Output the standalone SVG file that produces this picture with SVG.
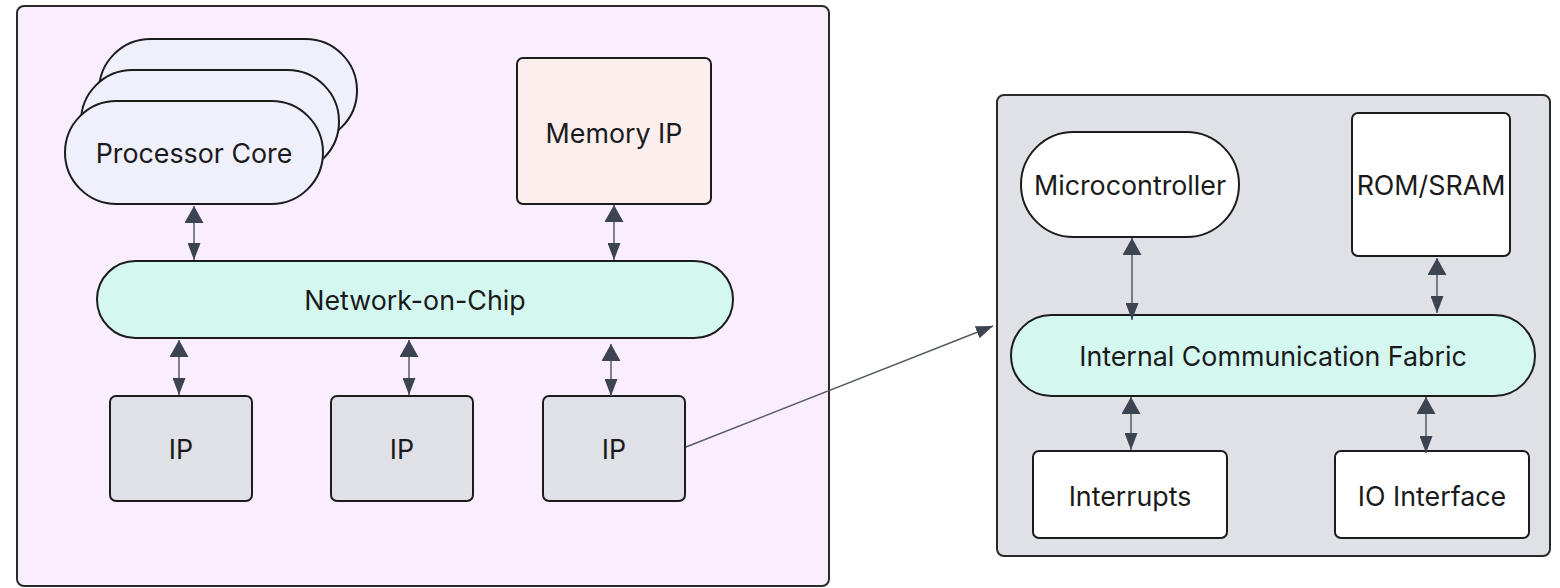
<svg xmlns="http://www.w3.org/2000/svg" width="1560" height="588" viewBox="0 0 1560 588">
  <style>
    .node { stroke: #1c1c1c; stroke-width: 2; }
    .lbl { font-family: Inter, "Liberation Sans", sans-serif; font-size: 26.8px; fill: #1a1a1a; text-anchor: middle; dominant-baseline: central; }
    .link { stroke: #555b66; stroke-width: 1.5; fill: none; }
  </style>
  <defs>
    <marker id="headEnd" markerUnits="userSpaceOnUse" markerWidth="17" markerHeight="13" refX="17" refY="6.5" orient="auto">
      <path d="M0,0 L17,6.5 L0,13 z" fill="#3d4451"/>
    </marker>
    <marker id="headStart" markerUnits="userSpaceOnUse" markerWidth="17" markerHeight="19" refX="0" refY="9.5" orient="auto">
      <path d="M0,9.5 L17,0 L17,19 z" fill="#3d4451"/>
    </marker>
  </defs>

  <!-- SoC container -->
  <g id="soc">
    <rect x="17" y="6" width="812" height="580" rx="7" fill="#faeefe" stroke="#2a2a2a" stroke-width="2"/>
  </g>

  <!-- Subsystem container -->
  <g id="subsystem">
    <rect x="997" y="95" width="553" height="461" rx="7" fill="#dfe1e6" stroke="#2a2a2a" stroke-width="2"/>
  </g>

  <g id="processor-core">
    <rect class="node" x="99" y="39" width="258" height="103" rx="51.5" fill="#eff0fb"/>
    <rect class="node" x="81" y="70" width="258" height="103" rx="51.5" fill="#eff0fb"/>
    <rect class="node" x="65" y="101" width="258" height="103" rx="51.5" fill="#eff0fb"/>
    <text class="lbl" x="194" y="153">Processor Core</text>
  </g>

  <g id="memory-ip">
    <rect class="node" x="517" y="58" width="194" height="146" rx="6" fill="#fdeeee"/>
    <text class="lbl" x="614" y="133">Memory IP</text>
  </g>

  <g id="noc">
    <rect class="node" x="97" y="261" width="636" height="77" rx="38.5" fill="#d4f8f0"/>
    <text class="lbl" x="415" y="300">Network-on-Chip</text>
  </g>

  <g id="ip-1">
    <rect class="node" x="110" y="396" width="142" height="105" rx="6" fill="#dfe1e6"/>
    <text class="lbl" x="181" y="449">IP</text>
  </g>
  <g id="ip-2">
    <rect class="node" x="331" y="396" width="142" height="105" rx="6" fill="#dfe1e6"/>
    <text class="lbl" x="402" y="449">IP</text>
  </g>
  <g id="ip-3">
    <rect class="node" x="543" y="396" width="142" height="105" rx="6" fill="#dfe1e6"/>
    <text class="lbl" x="614" y="449">IP</text>
  </g>

  <g id="microcontroller">
    <rect class="node" x="1021" y="132" width="218" height="105" rx="52.5" fill="#ffffff"/>
    <text class="lbl" x="1130" y="185">Microcontroller</text>
  </g>

  <g id="rom-sram">
    <rect class="node" x="1352" y="113" width="158" height="143" rx="6" fill="#ffffff"/>
    <text class="lbl" x="1431" y="185">ROM/SRAM</text>
  </g>

  <g id="fabric">
    <rect class="node" x="1011" y="315" width="524" height="81" rx="40.5" fill="#d4f8f0"/>
    <text class="lbl" x="1273" y="356">Internal Communication Fabric</text>
  </g>

  <g id="interrupts">
    <rect class="node" x="1033" y="451" width="194" height="87" rx="6" fill="#ffffff"/>
    <text class="lbl" x="1130" y="496">Interrupts</text>
  </g>

  <g id="io-interface">
    <rect class="node" x="1335" y="451" width="194" height="87" rx="6" fill="#ffffff"/>
    <text class="lbl" x="1432" y="496">IO Interface</text>
  </g>

  <!-- Connectors -->
  <g id="connectors">
    <line class="link" x1="194" y1="206" x2="194" y2="260" marker-start="url(#headStart)" marker-end="url(#headEnd)"/>
    <line class="link" x1="614" y1="205" x2="614" y2="260" marker-start="url(#headStart)" marker-end="url(#headEnd)"/>
    <line class="link" x1="179" y1="340" x2="179" y2="395" marker-start="url(#headStart)" marker-end="url(#headEnd)"/>
    <line class="link" x1="409" y1="340" x2="409" y2="395" marker-start="url(#headStart)" marker-end="url(#headEnd)"/>
    <line class="link" x1="611" y1="344" x2="611" y2="396" marker-start="url(#headStart)" marker-end="url(#headEnd)"/>
    <line class="link" x1="686" y1="447" x2="993" y2="326" marker-end="url(#headEnd)"/>
    <line class="link" x1="1132" y1="238" x2="1132" y2="320" marker-start="url(#headStart)" marker-end="url(#headEnd)"/>
    <line class="link" x1="1437" y1="258" x2="1437" y2="313" marker-start="url(#headStart)" marker-end="url(#headEnd)"/>
    <line class="link" x1="1131" y1="397" x2="1131" y2="450" marker-start="url(#headStart)" marker-end="url(#headEnd)"/>
    <line class="link" x1="1426" y1="397" x2="1426" y2="453" marker-start="url(#headStart)" marker-end="url(#headEnd)"/>
  </g>
</svg>
